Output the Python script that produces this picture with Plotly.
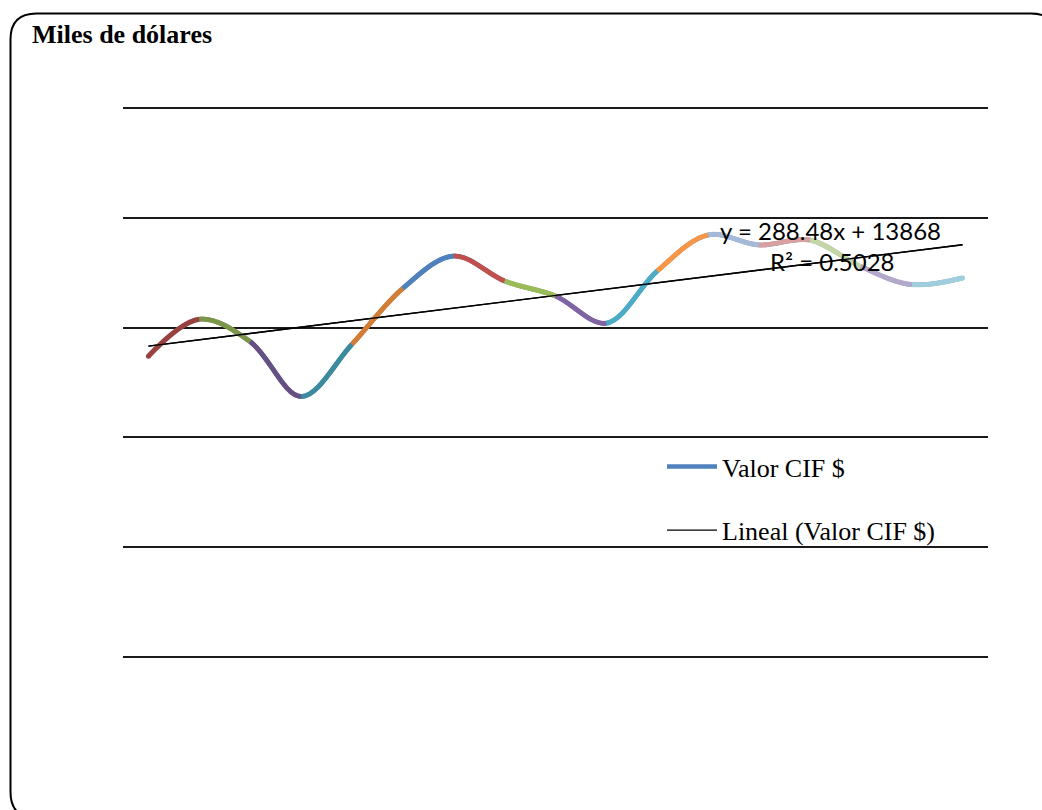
import plotly.graph_objects as go

# ---- data -------------------------------------------------------------
periodos = [1, 2, 3, 4, 5, 6, 7, 8, 9, 10, 11, 12, 13, 14, 15, 16, 17]
valor_cif = [13700, 15380, 14360, 11860, 14240, 16790, 18260, 17120, 16440,
             15200, 17580, 19220, 18760, 18990, 17780, 16960, 17260]

# one colour per segment between consecutive periods
colores_segmento = [
    "#9A403E", "#7C9647", "#665082", "#3C8A9E", "#D47D35",
    "#4F81BD", "#C0504D", "#9BBB59", "#8064A2", "#4BACC6", "#F79646",
    "#A7B9D9", "#D9A0A0", "#C4D5A6", "#B4A8CA", "#A0CEDC",
]

# linear trend (least squares)
pendiente = 288.48
intercepto = 13868
r_cuadrado = 0.5028

titulo = "Miles de dólares"
nombre_serie = "Valor CIF $"
nombre_tendencia = "Lineal (Valor CIF $)"

# ---- geometry ---------------------------------------------------------
W, H = 1042, 810
VAL_MIN, VAL_MAX = 0, 25000
TOP_PX, BOT_PX = 108, 657          # pixel rows of VAL_MAX and VAL_MIN
PAD_PX = 3                          # keeps the edge grid lines inside the plot
M_L, M_R = 123, 54
M_T = TOP_PX - PAD_PX
M_B = H - BOT_PX - PAD_PX
pad_val = PAD_PX * (VAL_MAX - VAL_MIN) / (BOT_PX - TOP_PX)
X_RANGE = [0.5, 17.5]
Y_RANGE = [VAL_MIN - pad_val, VAL_MAX + pad_val]
PLOT_W = W - M_L - M_R
PLOT_H = H - M_T - M_B
SX = PLOT_W / (X_RANGE[1] - X_RANGE[0])
SY = PLOT_H / (Y_RANGE[1] - Y_RANGE[0])


def px_x(px):
    return (px - M_L) / PLOT_W


def px_y(py):
    return (H - M_B - py) / PLOT_H


def tangente(prev, cur, nxt, suavizado=1.0):
    """Catmull-Rom control points (pixel metric), as used by line.shape='spline'."""
    p0 = (prev[0] * SX, prev[1] * SY)
    p1 = (cur[0] * SX, cur[1] * SY)
    p2 = (nxt[0] * SX, nxt[1] * SY)
    d1x, d1y = p0[0] - p1[0], p0[1] - p1[1]
    d2x, d2y = p2[0] - p1[0], p2[1] - p1[1]
    d1a = (d1x * d1x + d1y * d1y) ** 0.25
    d2a = (d2x * d2x + d2y * d2y) ** 0.25
    numx = (d2a * d2a * d1x - d1a * d1a * d2x) * suavizado
    numy = (d2a * d2a * d1y - d1a * d1a * d2y) * suavizado
    den1 = 3 * d2a * (d1a + d2a)
    den2 = 3 * d1a * (d1a + d2a)
    entrada = ((p1[0] + numx / den1) / SX, (p1[1] + numy / den1) / SY)
    salida = ((p1[0] - numx / den2) / SX, (p1[1] - numy / den2) / SY)
    return entrada, salida


pts = list(zip(periodos, valor_cif))
tang = [None] + [tangente(pts[i - 1], pts[i], pts[i + 1]) for i in range(1, len(pts) - 1)] + [None]


def fmt(p):
    return f"{p[0]:.5f},{p[1]:.3f}"


LINE_W = 5
segment_shapes = []
n = len(pts)
for i in range(n - 1):
    a, b = pts[i], pts[i + 1]
    if i == 0:
        d = f"M {fmt(a)} Q {fmt(tang[1][0])} {fmt(b)}"
    elif i == n - 2:
        d = f"M {fmt(a)} Q {fmt(tang[i][1])} {fmt(b)}"
    else:
        d = f"M {fmt(a)} C {fmt(tang[i][1])} {fmt(tang[i + 1][0])} {fmt(b)}"
    segment_shapes.append(dict(
        type="path", xref="x", yref="y", path=d, layer="above",
        line=dict(color=colores_segmento[i], width=LINE_W),
    ))

x_tend = [periodos[0], periodos[-1]]
y_tend = [pendiente * x + intercepto for x in x_tend]

fig = go.Figure()
fig.add_trace(go.Scatter(
    x=periodos, y=valor_cif, mode="lines", name=nombre_serie,
    legendgroup="serie",
    line=dict(color="#4F81BD", width=4.5, shape="spline", simplify=False),
    hoverinfo="skip",
))
fig.add_trace(go.Scatter(
    x=x_tend, y=y_tend, mode="lines", name=nombre_tendencia,
    legendgroup="tendencia",
    line=dict(color="black", width=1.3),
    hoverinfo="skip",
))

shapes = list(segment_shapes)
# round caps at both ends of the coloured curve
for (px_, py_), col in ((pts[0], colores_segmento[0]), (pts[-1], colores_segmento[-1])):
    rx = LINE_W / 2 / SX
    ry = LINE_W / 2 / SY
    shapes.append(dict(type="circle", xref="x", yref="y", layer="above",
                       x0=px_ - rx, x1=px_ + rx, y0=py_ - ry, y1=py_ + ry,
                       fillcolor=col, line=dict(width=0)))
# trend line redrawn over the coloured curve
shapes.append(dict(type="line", xref="x", yref="y", layer="above",
                   x0=x_tend[0], y0=y_tend[0], x1=x_tend[1], y1=y_tend[1],
                   line=dict(color="black", width=1.3)))

# rounded outer frame
bx0, by0, bx1, by1, r = 10.5, 13.5, 1057, 818, 26
frame = (
    f"M {px_x(bx0)},{px_y(by0 + r)} "
    f"Q {px_x(bx0)},{px_y(by0)} {px_x(bx0 + r)},{px_y(by0)} "
    f"L {px_x(bx1 - r)},{px_y(by0)} "
    f"Q {px_x(bx1)},{px_y(by0)} {px_x(bx1)},{px_y(by0 + r)} "
    f"L {px_x(bx1)},{px_y(by1 - r)} "
    f"Q {px_x(bx1)},{px_y(by1)} {px_x(bx1 - r)},{px_y(by1)} "
    f"L {px_x(bx0 + r)},{px_y(by1)} "
    f"Q {px_x(bx0)},{px_y(by1)} {px_x(bx0)},{px_y(by1 - r)} Z"
)
shapes.append(dict(type="path", xref="paper", yref="paper", path=frame,
                   line=dict(color="black", width=2), layer="below"))

annotations = [
    dict(text=titulo, xref="paper", yref="paper", x=px_x(30), y=px_y(35),
         xanchor="left", yanchor="middle", showarrow=False,
         font=dict(family="Liberation Serif", size=26, color="black", weight="bold")),
    dict(text=f"y = {pendiente}x + {intercepto}", xref="paper", yref="paper",
         x=px_x(830), y=px_y(230), xanchor="center", yanchor="middle", showarrow=False,
         font=dict(family="Lato", size=24, color="black")),
    dict(text=f"R² = {r_cuadrado}", xref="paper", yref="paper",
         x=px_x(832), y=px_y(261), xanchor="center", yanchor="middle", showarrow=False,
         font=dict(family="Lato", size=24, color="black")),
]

fig.update_layout(
    width=W, height=H,
    margin=dict(l=M_L, r=M_R, t=M_T, b=M_B, pad=0),
    paper_bgcolor="white", plot_bgcolor="white",
    showlegend=True,
    legend=dict(
        x=px_x(662), y=px_y(443), xanchor="left", yanchor="top",
        traceorder="grouped", tracegroupgap=27,
        font=dict(family="Liberation Serif", size=26, color="black"),
        bgcolor="rgba(0,0,0,0)", itemwidth=50,
    ),
    xaxis=dict(range=X_RANGE, showgrid=False, zeroline=False, showline=False,
               showticklabels=False, ticks=""),
    yaxis=dict(range=Y_RANGE, dtick=5000, tick0=0, showgrid=True, gridcolor="#1a1a1a",
               gridwidth=1.5, zeroline=False, showline=False, showticklabels=False,
               ticks=""),
    shapes=shapes,
    annotations=annotations,
)

fig.write_html("out.html")
